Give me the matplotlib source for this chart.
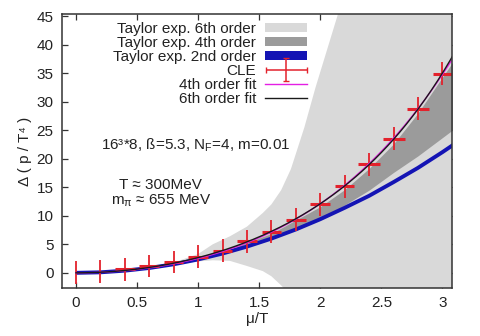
import numpy as np
import matplotlib
matplotlib.use("Agg")
import matplotlib.pyplot as plt
from matplotlib.patches import Patch
from matplotlib.container import ErrorbarContainer
from matplotlib.legend_handler import HandlerErrorbar

plt.rcParams['font.family'] = ['Liberation Sans', 'DejaVu Sans']
plt.rcParams['mathtext.fontset'] = 'custom'
plt.rcParams['mathtext.rm'] = 'Liberation Sans'
plt.rcParams['mathtext.it'] = 'Liberation Sans:italic'

# CLE measurements
mu_cle = [0.0, 0.2, 0.4, 0.6, 0.8, 1.0, 1.2, 1.4, 1.6, 1.8, 2.0, 2.2, 2.4, 2.6, 2.8, 3.0]
dp_cle = [0.0, 0.2, 0.6, 1.2, 1.9, 2.8, 3.9, 5.5, 7.2, 9.3, 12.0, 15.2, 19.0, 23.5, 28.8, 34.9]
dp_err = [2.0] * 16
mu_err = [0.0, 0.0, 0.08, 0.08, 0.08, 0.08, 0.08, 0.08, 0.08, 0.08, 0.08, 0.08, 0.09, 0.09, 0.09, 0.08]

# Taylor expansion, 6th order band
mu_t6 = [0.0, 0.4, 0.8, 1.0, 1.12, 1.26, 1.40, 1.53, 1.60, 1.68, 1.76, 1.87, 1.96, 2.05, 2.14, 2.3, 3.2]
lo_t6 = [0.0, 0.35, 1.35, 2.0, 2.2, 2.1, 1.2, 0.3, -0.6, -2.2, -4.0, -7.0, -10, -12, -14, -20, -60]
hi_t6 = [0.0, 0.42, 1.8, 3.3, 5.0, 6.4, 8.1, 10.5, 12.0, 14.5, 18.2, 25.5, 32.4, 38.7, 45.0, 58, 120]

# Taylor expansion, 4th order band
mu_t4 = [0.0, 0.4, 0.8, 1.2, 1.6, 2.0, 2.2, 2.4, 2.6, 2.8, 3.0, 3.1]
lo_t4 = [0.0, 0.37, 1.5, 3.4, 6.0, 9.6, 11.9, 14.5, 17.6, 20.5, 23.7, 25.3]
hi_t4 = [0.0, 0.39, 1.58, 3.68, 6.9, 11.6, 14.6, 18.3, 22.6, 28.0, 34.3, 37.4]

# Taylor expansion, 2nd order
mu_t2 = [0.0, 0.2, 0.4, 0.6, 0.8, 1.0, 1.2, 1.4, 1.6, 1.8, 2.0, 2.2, 2.4, 2.6, 2.8, 3.0, 3.1]
dp_t2 = [0.0, 0.09, 0.38, 0.85, 1.5, 2.35, 3.38, 4.6, 6.0, 7.6, 9.4, 11.4, 13.5, 15.9, 18.4, 21.15, 22.6]

red = '#e3222c'
light = '#d9d9d9'
dark = '#9b9b9b'
blue = '#1414b4'
magenta = '#e41ee4'
txt = '#222222'
fs = 11

fig = plt.figure(figsize=(4.8, 3.36), dpi=100)
ax = fig.add_axes([0.129, 0.143, 0.813, 0.815])
ax.set_axisbelow(True)

ax.fill_between(mu_t6, lo_t6, hi_t6, color=light, lw=0, zorder=1)
ax.fill_between(mu_t4, lo_t4, hi_t4, color=dark, lw=0, zorder=2)
ax.plot(mu_t2, dp_t2, color=blue, lw=2.8, zorder=3, solid_capstyle='butt')

# CLE points with error bars
ax.errorbar(mu_cle, dp_cle, yerr=dp_err, fmt='none', ecolor=red, elinewidth=1.3, zorder=4)
ax.errorbar(mu_cle, dp_cle, xerr=mu_err, fmt='none', ecolor=red, elinewidth=2.2, zorder=4)

# even-power polynomial fits to the CLE data
x = np.array(mu_cle)
y = np.array(dp_cle)
A4 = np.vstack([x**2, x**4]).T
A6 = np.vstack([x**2, x**4, x**6]).T
c4 = np.linalg.lstsq(A4, y, rcond=None)[0]
c6 = np.linalg.lstsq(A6, y, rcond=None)[0]
xs = np.linspace(0, 3.1, 300)
fit4 = c4[0] * xs**2 + c4[1] * xs**4
fit6 = c6[0] * xs**2 + c6[1] * xs**4 + c6[2] * xs**6
ax.plot(xs, fit4, color=magenta, lw=1.0, zorder=5)
ax.plot(xs, fit6, color='#1a1a1a', lw=1.0, zorder=6)

ax.set_xlim(-0.115, 3.08)
ax.set_ylim(-2.65, 45.35)
ax.set_xticks([0, 0.5, 1, 1.5, 2, 2.5, 3])
ax.set_xticklabels(['0', '0.5', '1', '1.5', '2', '2.5', '3'])
ax.set_yticks(range(0, 46, 5))
ax.tick_params(direction='in', top=True, right=True, length=4, width=0.9,
               labelsize=fs, colors='#333333', labelcolor=txt, pad=6)
for s in ax.spines.values():
    s.set_color('#333333')
    s.set_linewidth(1.1)
    s.set_zorder(10)

ax.set_xlabel('μ/T', fontsize=fs, color=txt, labelpad=1)
ax.set_ylabel('Δ ( p / T⁴ )', fontsize=fs, color=txt, labelpad=3)

ax.text(0.98, 22.3, r'16³*8, ß=5.3, N$_\mathrm{F}$=4, m=0.01', ha='center', va='center',
        fontsize=fs, color=txt)
ax.text(0.69, 15.4, 'T ≈ 300MeV', ha='center', va='center', fontsize=fs, color=txt)
ax.text(0.70, 12.6, r'm$_\mathrm{π}$ ≈ 655 MeV', ha='center', va='center', fontsize=fs, color=txt)

h6 = Patch(facecolor=light, edgecolor='none')
h4 = Patch(facecolor=dark, edgecolor='none')
h2 = Patch(facecolor=blue, edgecolor='none')
hc = ax.errorbar([np.nan], [np.nan], xerr=[1], yerr=[1], fmt='none', ecolor=red,
                 elinewidth=1.1, capsize=2.5)
hm, = ax.plot([], [], color=magenta, lw=1.0)
hk, = ax.plot([], [], color='#1a1a1a', lw=1.0)
leg = ax.legend([h6, h4, h2, hc, hm, hk],
                ['Taylor exp. 6th order', 'Taylor exp. 4th order', 'Taylor exp. 2nd order',
                 'CLE', '4th order fit', '6th order fit'],
                loc='upper right', bbox_to_anchor=(0.66, 1.016), markerfirst=False,
                frameon=False, fontsize=fs, handlelength=2.75, handleheight=0.55,
                handletextpad=0.6, labelspacing=0.0, borderpad=0.3,
                handler_map={ErrorbarContainer: HandlerErrorbar(xerr_size=1.35, yerr_size=0.75)})
for t in leg.get_texts():
    t.set_color(txt)

fig.savefig('out.png', dpi=100)
